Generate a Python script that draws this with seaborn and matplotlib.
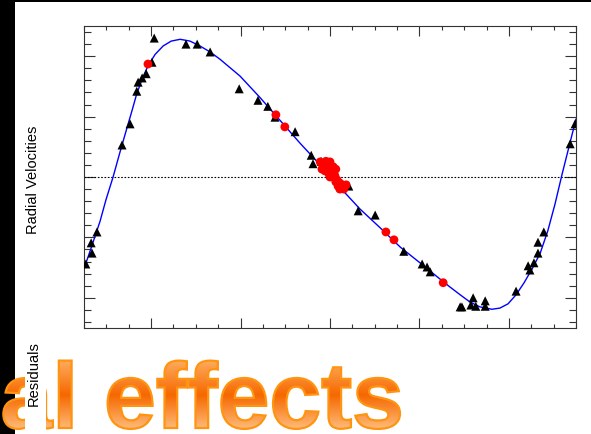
import numpy as np
import pandas as pd
import matplotlib
matplotlib.use("Agg")
import matplotlib.pyplot as plt
from matplotlib.patches import Rectangle, PathPatch
from matplotlib.textpath import TextPath
from matplotlib.font_manager import FontProperties
from matplotlib.path import Path
from matplotlib.ticker import MultipleLocator
import seaborn as sns

# Orbital model curve (phase, radial velocity in m/s)
model_phase = [-0.150, -0.132, -0.114, -0.101, -0.085, -0.070, -0.056, -0.043, -0.032,
               -0.020, -0.007, 0.009, 0.027, 0.045, 0.065, 0.087, 0.109, 0.132, 0.154,
               0.199, 0.243, 0.288, 0.333, 0.378, 0.422, 0.467, 0.512, 0.557, 0.601,
               0.646, 0.668, 0.691, 0.713, 0.735, 0.762, 0.780, 0.798, 0.816, 0.834,
               0.852, 0.870, 0.887, 0.903, 0.919, 0.936, 0.950]
model_rv = [-152, -113, -73, -38, 0, 40, 76, 109, 138,
            162, 184, 203, 217, 225, 228, 225, 217, 207, 195,
            167, 132, 94, 56, 20, -17, -53, -84, -116, -142,
            -169, -182, -195, -207, -215, -219, -217, -210, -195, -175,
            -152, -126, -89, -45, 5, 55, 96]

# Observations, first instrument (triangles)
obs1_phase = [-0.146, -0.132, -0.134, -0.121, -0.065, -0.047, -0.032, -0.029, -0.020,
              -0.011, 0.002, 0.007, 0.078, 0.103, 0.132, 0.197, 0.239, 0.261, 0.277,
              0.322, 0.358, 0.362, 0.380, 0.442, 0.463, 0.501, 0.565, 0.606, 0.617,
              0.624, 0.691, 0.695, 0.715, 0.720, 0.726, 0.747, 0.747, 0.816, 0.843,
              0.847, 0.856, 0.865, 0.865, 0.878, 0.937, 0.948]
obs1_rv = [-144, -126, -109, -91, 53, 88, 142, 157, 164,
           171, 190, 230, 220, 220, 207, 146, 127, 117, 99,
           75, 36, 22, 26, -15, -56, -63, -123, -144, -149,
           -157, -215, -215, -212, -200, -214, -205, -214, -189, -147,
           -154, -142, -126, -108, -91, 55, 88]

# Observations, second instrument (red dots)
obs2_phase = [-0.007, 0.279, 0.299, 0.384, 0.391, 0.400, 0.407, 0.389, 0.398, 0.404,
              0.394, 0.396, 0.411, 0.416, 0.422, 0.427, 0.418, 0.431, 0.413, 0.409,
              0.378, 0.382, 0.413, 0.400, 0.431, 0.422, 0.436,
              0.525, 0.543, 0.653]
obs2_rv = [187, 103, 83, 20, 26, 25, 17, 10, 5, 10,
           16, 20, 2, -5, -10, -13, -15, -17, -8, 0,
           25, 13, 13, 0, -20, -20, -13,
           -91, -104, -175]

W, H = 591, 435
sns.set_style("ticks")
plt.rcParams["font.family"] = ["Liberation Sans", "DejaVu Sans"]

fig = plt.figure(figsize=(W / 100, H / 100), dpi=100)
fig.patch.set_facecolor("white")

# Dark slide edges
fig.patches.append(Rectangle((0, 0), 15 / W, 1, transform=fig.transFigure,
                             facecolor="black", edgecolor="none", zorder=0))
fig.patches.append(Rectangle((0, 1 - 2.5 / H), 1, 2.5 / H, transform=fig.transFigure,
                             facecolor="black", edgecolor="none", zorder=0))

ax = fig.add_axes([84 / W, 1 - 329 / H, (576 - 84) / W, (329 - 27) / H])

model = pd.DataFrame({"phase": model_phase, "rv": model_rv})
obs1 = pd.DataFrame({"phase": obs1_phase, "rv": obs1_rv})
obs2 = pd.DataFrame({"phase": obs2_phase, "rv": obs2_rv})

ax.axhline(0, color="black", linestyle=(0, (1.5, 1.5)), linewidth=0.8, zorder=1)
sns.lineplot(data=model, x="phase", y="rv", ax=ax, color="#0000ff", linewidth=1.0,
             sort=False, estimator=None, zorder=2)
sns.scatterplot(data=obs1, x="phase", y="rv", ax=ax, marker="^", color="black",
                s=42, linewidth=0, edgecolor="none", zorder=3)
sns.scatterplot(data=obs2, x="phase", y="rv", ax=ax, marker="o", color="#ff0000",
                s=40, linewidth=0, edgecolor="none", zorder=4)

ax.set_xlim(-0.15, 0.95)
ax.set_ylim(-250, 250)
ax.xaxis.set_major_locator(MultipleLocator(0.2))
ax.xaxis.set_minor_locator(MultipleLocator(0.05))
ax.yaxis.set_major_locator(MultipleLocator(100))
ax.yaxis.set_minor_locator(MultipleLocator(20))
ax.tick_params(which="both", direction="in", top=True, right=True, bottom=True, left=True,
               labelbottom=False, labelleft=False, color="#333333", width=0.8)
ax.tick_params(axis="x", which="major", length=7.5)
ax.tick_params(axis="x", which="minor", length=3)
ax.tick_params(axis="y", which="major", length=7.8)
ax.tick_params(axis="y", which="minor", length=5)
for sp in ax.spines.values():
    sp.set_visible(True)
    sp.set_color("#333333")
    sp.set_linewidth(0.8)

ax.set_xlabel("")
ax.set_ylabel("Radial Velocities", fontsize=10.5, color="black")
ax.yaxis.set_label_coords((40 - 84) / (576 - 84), (329 - 180) / (329 - 27))

# Large headline with a vertical orange gradient fill
ov = fig.add_axes([0, 0, 1, 1], zorder=10)
ov.set_axis_off()
ov.patch.set_visible(False)

fp = FontProperties(family="Liberation Sans", weight="bold")
tp = TextPath((0, 0), "al effects", size=93, prop=fp)
bb = tp.get_extents()
verts = tp.vertices.copy()
verts[:, 0] += 400 - bb.x1
verts[:, 1] += H - 429
tpath = Path(verts, tp.codes)

clip = PathPatch(tpath, facecolor="none", edgecolor="none", transform=ov.transData)
ov.add_patch(clip)

# rows listed top to bottom in screen pixels
row_px = np.linspace(358, 435, 200)
stop_px = [358, 396, 435]
stop_col = np.array([[255, 178, 102], [246, 104, 0], [255, 200, 140]]) / 255.0
grad = np.stack([np.interp(row_px, stop_px, stop_col[:, k]) for k in range(3)], axis=-1)
grad = grad[:, None, :]
im = ov.imshow(grad, extent=[-20, 420, H - 435, H - 358], origin="upper",
               aspect="auto", interpolation="bilinear", zorder=1)
im.set_clip_path(clip)

outline = PathPatch(tpath, facecolor="none", edgecolor="#ff9410", linewidth=1.6,
                    transform=ov.transData, zorder=2)
ov.add_patch(outline)

# Label of the lower panel sits on its own white strip
ov.add_patch(Rectangle((25, 0), 21, H - 333, facecolor="white", edgecolor="none", zorder=3))
ov.text(34, H - 374, "Residuals", rotation=90, fontsize=10.5, ha="center", va="center",
        color="black", zorder=4)

ov.set_xlim(0, W)
ov.set_ylim(0, H)

fig.savefig("out.png", dpi=100, facecolor=fig.get_facecolor())
